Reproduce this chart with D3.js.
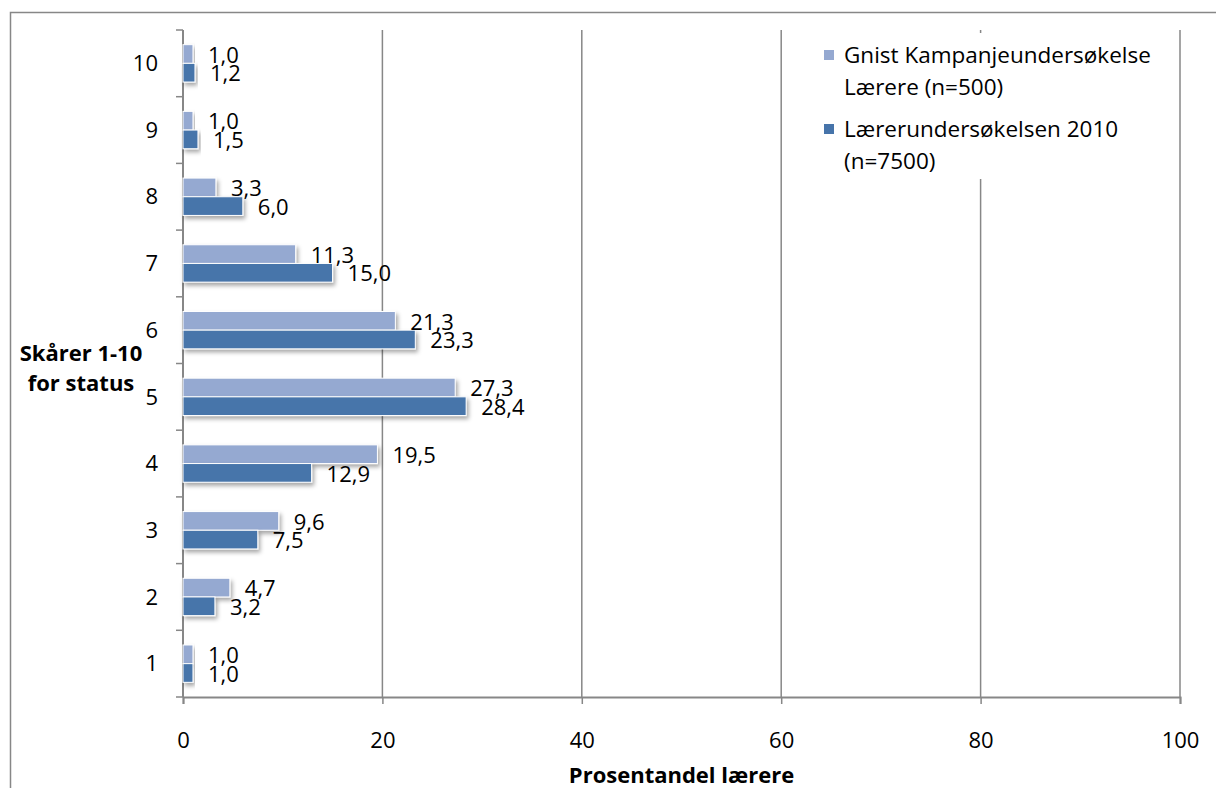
<!DOCTYPE html>
<html>
<head>
<meta charset="utf-8">
<script src="https://cdn.jsdelivr.net/npm/d3@7"></script>
<style>
  body { margin: 0; background: #fff; }
  text { font-family: "Open Sans", "Noto Sans", sans-serif; fill: #000; }
</style>
</head>
<body>
<svg id="chart" width="1216" height="788"></svg>
<script>
// scores 1-10 (bottom to top)
const categories = ["1", "2", "3", "4", "5", "6", "7", "8", "9", "10"];
const gnist = [1.0, 4.7, 9.6, 19.5, 27.3, 21.3, 11.3, 3.3, 1.0, 1.0];
const laerer2010 = [1.0, 3.2, 7.5, 12.9, 28.4, 23.3, 15.0, 6.0, 1.5, 1.2];
const seriesNames = ["Gnist Kampanjeundersøkelse Lærere (n=500)", "Lærerundersøkelsen 2010 (n=7500)"];
const xTicks = [0, 20, 40, 60, 80, 100];

const colors = ["#95a9d1", "#4674aa"];
const gridColor = "#878787";

const svg = d3.select("#chart");
const margin = { top: 30, right: 36, bottom: 91, left: 183 };
const width = 1216 - margin.left - margin.right;
const height = 788 - margin.top - margin.bottom;

const nf = d3.formatLocale({ decimal: ",", thousands: " ", grouping: [3], currency: ["", ""] }).format(".1f");

// outer chart border (runs off the picture on right/bottom)
svg.append("rect")
  .attr("x", 10.5).attr("y", 12.5)
  .attr("width", 1300).attr("height", 900)
  .attr("fill", "none")
  .attr("stroke", gridColor)
  .attr("stroke-width", 1.5);

const defs = svg.append("defs");
defs.append("filter").attr("id", "shadow")
  .attr("x", "-10%").attr("y", "-30%").attr("width", "130%").attr("height", "180%")
  .append("feDropShadow")
  .attr("dx", 2).attr("dy", 3).attr("stdDeviation", 2)
  .attr("flood-color", "#000").attr("flood-opacity", 0.35);

const x = d3.scaleLinear().domain([0, 100]).range([0, width]);
const y = d3.scaleBand().domain(categories.slice().reverse()).range([0, height]).paddingInner(0.44).paddingOuter(0.22);
const ySub = d3.scaleBand().domain([0, 1]).range([0, y.bandwidth()]);

const g = svg.append("g").attr("transform", `translate(${margin.left},${margin.top})`);

// vertical gridlines
g.append("g")
  .selectAll("line")
  .data(xTicks.slice(1))
  .join("line")
  .attr("x1", d => x(d)).attr("x2", d => x(d))
  .attr("y1", 0).attr("y2", height)
  .attr("stroke", gridColor)
  .attr("stroke-width", 1.5);

// x axis
const xAxis = g.append("g")
  .attr("transform", `translate(0,${height})`)
  .call(d3.axisBottom(x).tickValues(xTicks).tickSize(7).tickPadding(28).tickFormat(d3.format("d")));
xAxis.select(".domain").attr("stroke", gridColor).attr("stroke-width", 2);
xAxis.selectAll(".tick line").attr("stroke", gridColor).attr("stroke-width", 1.5);
xAxis.selectAll("text").attr("font-size", 22).attr("font-family", "Open Sans");

// y axis: ticks between categories
const yAxisG = g.append("g");
yAxisG.append("line")
  .attr("x1", 0).attr("x2", 0).attr("y1", 0).attr("y2", height)
  .attr("stroke", gridColor).attr("stroke-width", 2);
const step = y.step();
yAxisG.selectAll("line.tk")
  .data(d3.range(categories.length + 1))
  .join("line")
  .attr("class", "tk")
  .attr("x1", -7).attr("x2", 0)
  .attr("y1", i => i * step).attr("y2", i => i * step)
  .attr("stroke", gridColor).attr("stroke-width", 1.5);
yAxisG.selectAll("text")
  .data(categories)
  .join("text")
  .attr("x", -25)
  .attr("y", d => y(d) + y.bandwidth() / 2)
  .attr("dy", "0.35em")
  .attr("text-anchor", "end")
  .attr("font-size", 22)
  .text(d => d);

// bars
const rows = categories.map((c, i) => ({ cat: c, vals: [gnist[i], laerer2010[i]] }));
const groups = g.append("g").selectAll("g")
  .data(rows)
  .join("g")
  .attr("transform", d => `translate(0,${y(d.cat)})`);

groups.selectAll("rect")
  .data(d => d.vals.map((v, k) => ({ v, k })))
  .join("rect")
  .attr("x", 0)
  .attr("y", d => ySub(d.k))
  .attr("width", d => x(d.v))
  .attr("height", ySub.bandwidth())
  .attr("fill", d => colors[d.k])
  .attr("stroke", "#fff")
  .attr("stroke-width", 1)
  .attr("filter", "url(#shadow)");

groups.selectAll("text")
  .data(d => d.vals.map((v, k) => ({ v, k })))
  .join("text")
  .attr("x", d => x(d.v) + 15)
  .attr("y", d => ySub(d.k) + ySub.bandwidth() / 2 + 1)
  .attr("dy", "0.35em")
  .attr("font-size", 22)
  .text(d => nf(d.v));

// axis titles
const yTitle = svg.append("text")
  .attr("x", 81).attr("y", 353)
  .attr("text-anchor", "middle")
  .attr("font-size", 22)
  .attr("font-weight", "bold");
yTitle.append("tspan").attr("x", 81).attr("dy", "0.35em").text("Skårer 1-10");
yTitle.append("tspan").attr("x", 81).attr("dy", 30).text("for status");

svg.append("text")
  .attr("x", margin.left + x(50)).attr("y", 775)
  .attr("dy", "0.35em")
  .attr("text-anchor", "middle")
  .attr("font-size", 22)
  .attr("font-weight", "bold")
  .text("Prosentandel lærere");

// legend
const legend = svg.append("g").attr("transform", "translate(800,33)");
legend.append("rect")
  .attr("x", 0).attr("y", 0)
  .attr("width", 370).attr("height", 146)
  .attr("fill", "#fff");
const legendLines = [["Gnist Kampanjeundersøkelse", "Lærere (n=500)"], ["Lærerundersøkelsen 2010", "(n=7500)"]];
legendLines.forEach((lines, k) => {
  const ly = 22 + k * 74;
  legend.append("rect")
    .attr("x", 24).attr("y", ly - 5)
    .attr("width", 10).attr("height", 10)
    .attr("fill", colors[k]);
  lines.forEach((t, j) => {
    legend.append("text")
      .attr("x", 44).attr("y", ly + j * 32)
      .attr("dy", "0.35em")
      .attr("font-size", 22.5)
      .text(t);
  });
});
</script>
</body>
</html>
